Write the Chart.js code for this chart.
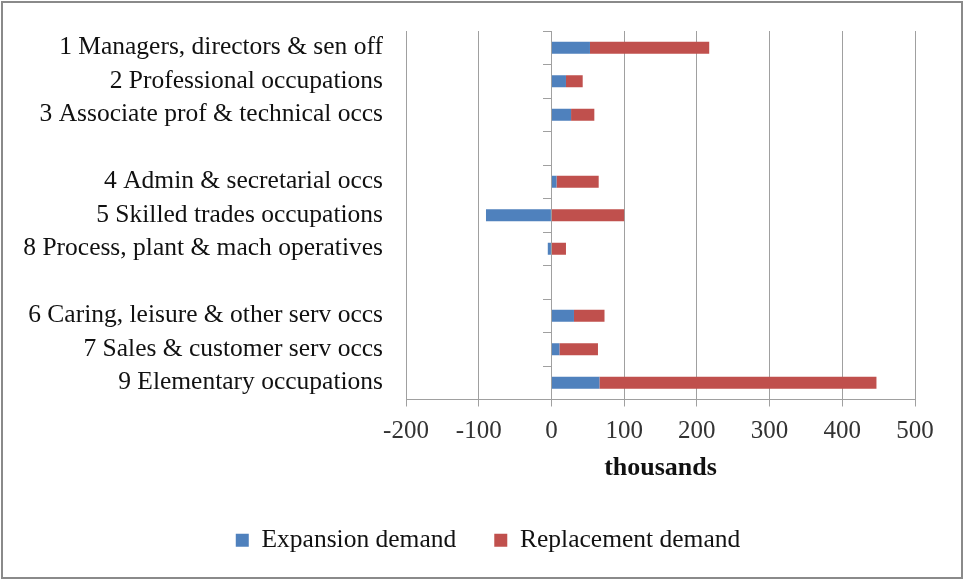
<!DOCTYPE html>
<html>
<head>
<meta charset="utf-8">
<script src="https://cdn.jsdelivr.net/npm/chart.js@4.4.1/dist/chart.umd.min.js"></script>
<style>
  html, body { margin: 0; padding: 0; background: #fff; }
  #wrap { position: relative; width: 964px; height: 581px; }
  #frame {
    position: absolute; left: 1px; top: 1px; width: 962px; height: 578px;
    box-sizing: border-box; border: 2px solid #8a8a8a; pointer-events: none;
  }
</style>
</head>
<body>
<div id="wrap">
  <canvas id="chart" width="964" height="581"></canvas>
  <div id="frame"></div>
</div>
<script>
// occupation groups (blank entries are the gaps between groups)
const categories = [
  "1 Managers, directors & sen off",
  "2 Professional occupations",
  "3 Associate prof & technical occs",
  "",
  "4 Admin & secretarial occs",
  "5 Skilled trades occupations",
  "8 Process, plant & mach operatives",
  "",
  "6 Caring, leisure & other serv occs",
  "7 Sales & customer serv occs",
  "9 Elementary occupations",
];

// thousands of jobs
const expansionDemand = [53, 20, 27, null, 7, -90, -5, null, 31, 11, 66];
const replacementDemand = [164, 23, 32, null, 58, 100, 20, null, 42, 53, 381];

const seriesNames = ["Expansion demand", "Replacement demand"];
const xMin = -200;
const xMax = 500;
const xStep = 100;

const serif = "'Liberation Serif', 'Times New Roman', serif";
const gridGrey = "#a0a0a0";

const ctx = document.getElementById("chart").getContext("2d");

new Chart(ctx, {
  type: "bar",
  data: {
    labels: categories,
    datasets: [
      {
        label: seriesNames[0],
        data: expansionDemand,
        backgroundColor: "#4f81bd",
        borderWidth: 0,
        barPercentage: 1,
        categoryPercentage: 0.36,
      },
      {
        label: seriesNames[1],
        data: replacementDemand,
        backgroundColor: "#c0504d",
        borderWidth: 0,
        barPercentage: 1,
        categoryPercentage: 0.36,
      },
    ],
  },
  options: {
    indexAxis: "y",
    responsive: false,
    animation: false,
    layout: { padding: { top: 31, right: 0, left: 12, bottom: 18 } },
    scales: {
      x: {
        stacked: true,
        min: xMin,
        max: xMax,
        ticks: {
          stepSize: xStep,
          color: "#333",
          padding: 10,
          font: { family: serif, size: 25 },
        },
        grid: { color: gridGrey, tickLength: 7 },
        border: { color: gridGrey },
        title: {
          display: true,
          text: "thousands",
          color: "#111",
          padding: { top: 4, bottom: 6 },
          font: { family: serif, size: 26, weight: "bold" },
        },
        afterFit: (scale) => {
          scale.height = 90;
        },
      },
      y: {
        stacked: true,
        grid: { display: false, drawTicks: false },
        border: { display: false },
        ticks: {
          color: "#111",
          padding: 23,
          autoSkip: false,
          // small lineHeight keeps the label padding from pushing the plot down
          font: { family: serif, size: 25.5, lineHeight: 0.6 },
        },
        afterFit: (scale) => {
          scale.width = 394;
        },
      },
      // axis line at zero with category tick marks
      y2: {
        axis: "y",
        type: "category",
        position: { x: 0 },
        offset: true,
        ticks: { display: false },
        grid: {
          offset: true,
          drawOnChartArea: false,
          tickLength: 8,
          color: gridGrey,
        },
        border: { color: gridGrey },
      },
      // empty right-hand margin, keeps the legend centred on the whole frame
      yRight: {
        axis: "y",
        type: "category",
        position: "right",
        ticks: { display: false },
        grid: { display: false, drawTicks: false },
        border: { display: false },
        afterFit: (scale) => {
          scale.width = 49;
        },
      },
    },
    plugins: {
      legend: {
        position: "bottom",
        labels: {
          boxWidth: 13,
          boxHeight: 13,
          padding: 38,
          color: "#111",
          font: { family: serif, size: 25.5 },
        },
      },
      tooltip: { enabled: false },
    },
  },
});
</script>
</body>
</html>
